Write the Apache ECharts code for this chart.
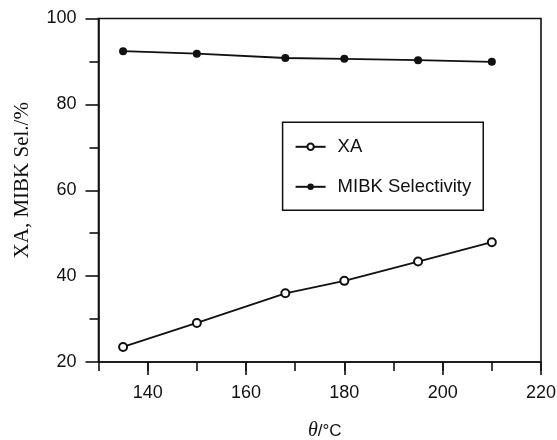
<!DOCTYPE html>
<html>
<head>
<meta charset="utf-8">
<script src="https://cdn.jsdelivr.net/npm/echarts@6/dist/echarts.min.js"></script>
<style>html,body{margin:0;padding:0;background:#fff}#c{width:557px;height:440px}</style>
</head>
<body>
<div id="c"></div>
<script>
const temperatures = [135, 150, 168, 180, 195, 210];
const xaValues = [23.5, 29.1, 36.0, 38.9, 43.4, 47.9];
const mibkSelectivity = [92.4, 91.8, 90.8, 90.6, 90.3, 89.9];
const xMajorTicks = [140, 160, 180, 200, 220];
const seriesNames = ['XA', 'MIBK Selectivity'];

const chart = echarts.init(document.getElementById('c'));
const ink = '#111';
const sans = '"Liberation Sans", Arial, sans-serif';
const serif = '"Liberation Serif", "Times New Roman", serif';

const pairs = (ys) => temperatures.map((t, i) => [t, ys[i]]);

chart.setOption({
  animation: false,
  backgroundColor: '#fff',
  grid: { left: 98.5, right: 16, top: 18.5, bottom: 78, show: true, borderColor: ink, borderWidth: 1.6, containLabel: false, outerBoundsMode: 'none' },
  legend: {
    orient: 'vertical',
    left: 282.6, top: 122.3,
    padding: [15, 12, 14, 12],
    itemGap: 21,
    itemWidth: 30, itemHeight: 8,
    borderColor: ink, borderWidth: 1.5,
    textStyle: { fontFamily: sans, fontSize: 18.5, color: ink, padding: [0, 0, 0, 7] },
    data: seriesNames
  },
  xAxis: [{
    type: 'value', min: 130, max: 220, interval: 10,
    name: '{it|θ}{n|/°C}', nameLocation: 'middle', nameGap: 59,
    nameTextStyle: { padding: [0, 0, 0, 10], rich: { it: { fontFamily: serif, fontStyle: 'italic', fontSize: 20, color: ink }, n: { fontFamily: sans, fontSize: 17, color: ink } } },
    axisLine: { lineStyle: { color: ink, width: 1.6 } },
    axisTick: { length: 9, lineStyle: { color: ink, width: 1.6 } },
    axisLabel: { margin: 22, fontFamily: sans, fontSize: 18, color: ink, formatter: v => (v % 20 === 0 ? String(v) : '') },
    splitLine: { show: false }
  }, {
    type: 'value', min: 130, max: 220, position: 'bottom',
    axisLine: { show: false },
    axisTick: { show: true, length: 13, customValues: xMajorTicks, lineStyle: { color: ink, width: 1.6 } },
    axisLabel: { show: false },
    splitLine: { show: false }
  }],
  yAxis: {
    type: 'value', min: 20, max: 100, interval: 20,
    name: 'XA, MIBK Sel./%', nameLocation: 'middle', nameGap: 66, nameRotate: 90,
    nameTextStyle: { fontFamily: serif, fontSize: 21, color: ink, padding: [0, 0, 0, 20] },
    axisLine: { show: true, lineStyle: { color: ink, width: 1.6 } },
    axisTick: { show: true, length: 13, lineStyle: { color: ink, width: 1.6 } },
    minorTick: { show: true, splitNumber: 2, length: 9, lineStyle: { color: ink, width: 1.6 } },
    axisLabel: { margin: 22, fontFamily: sans, fontSize: 18, color: ink },
    splitLine: { show: false }
  },
  series: [{
    name: seriesNames[0], type: 'line', xAxisIndex: 0,
    data: pairs(xaValues),
    symbol: 'emptyCircle', symbolSize: 8,
    lineStyle: { color: ink, width: 1.8 },
    itemStyle: { color: ink, borderColor: ink, borderWidth: 1.5 }
  }, {
    name: seriesNames[1], type: 'line', xAxisIndex: 0,
    data: pairs(mibkSelectivity),
    symbol: 'circle', symbolSize: 8,
    lineStyle: { color: ink, width: 1.8 },
    itemStyle: { color: ink }
  }]
});
</script>
</body>
</html>
